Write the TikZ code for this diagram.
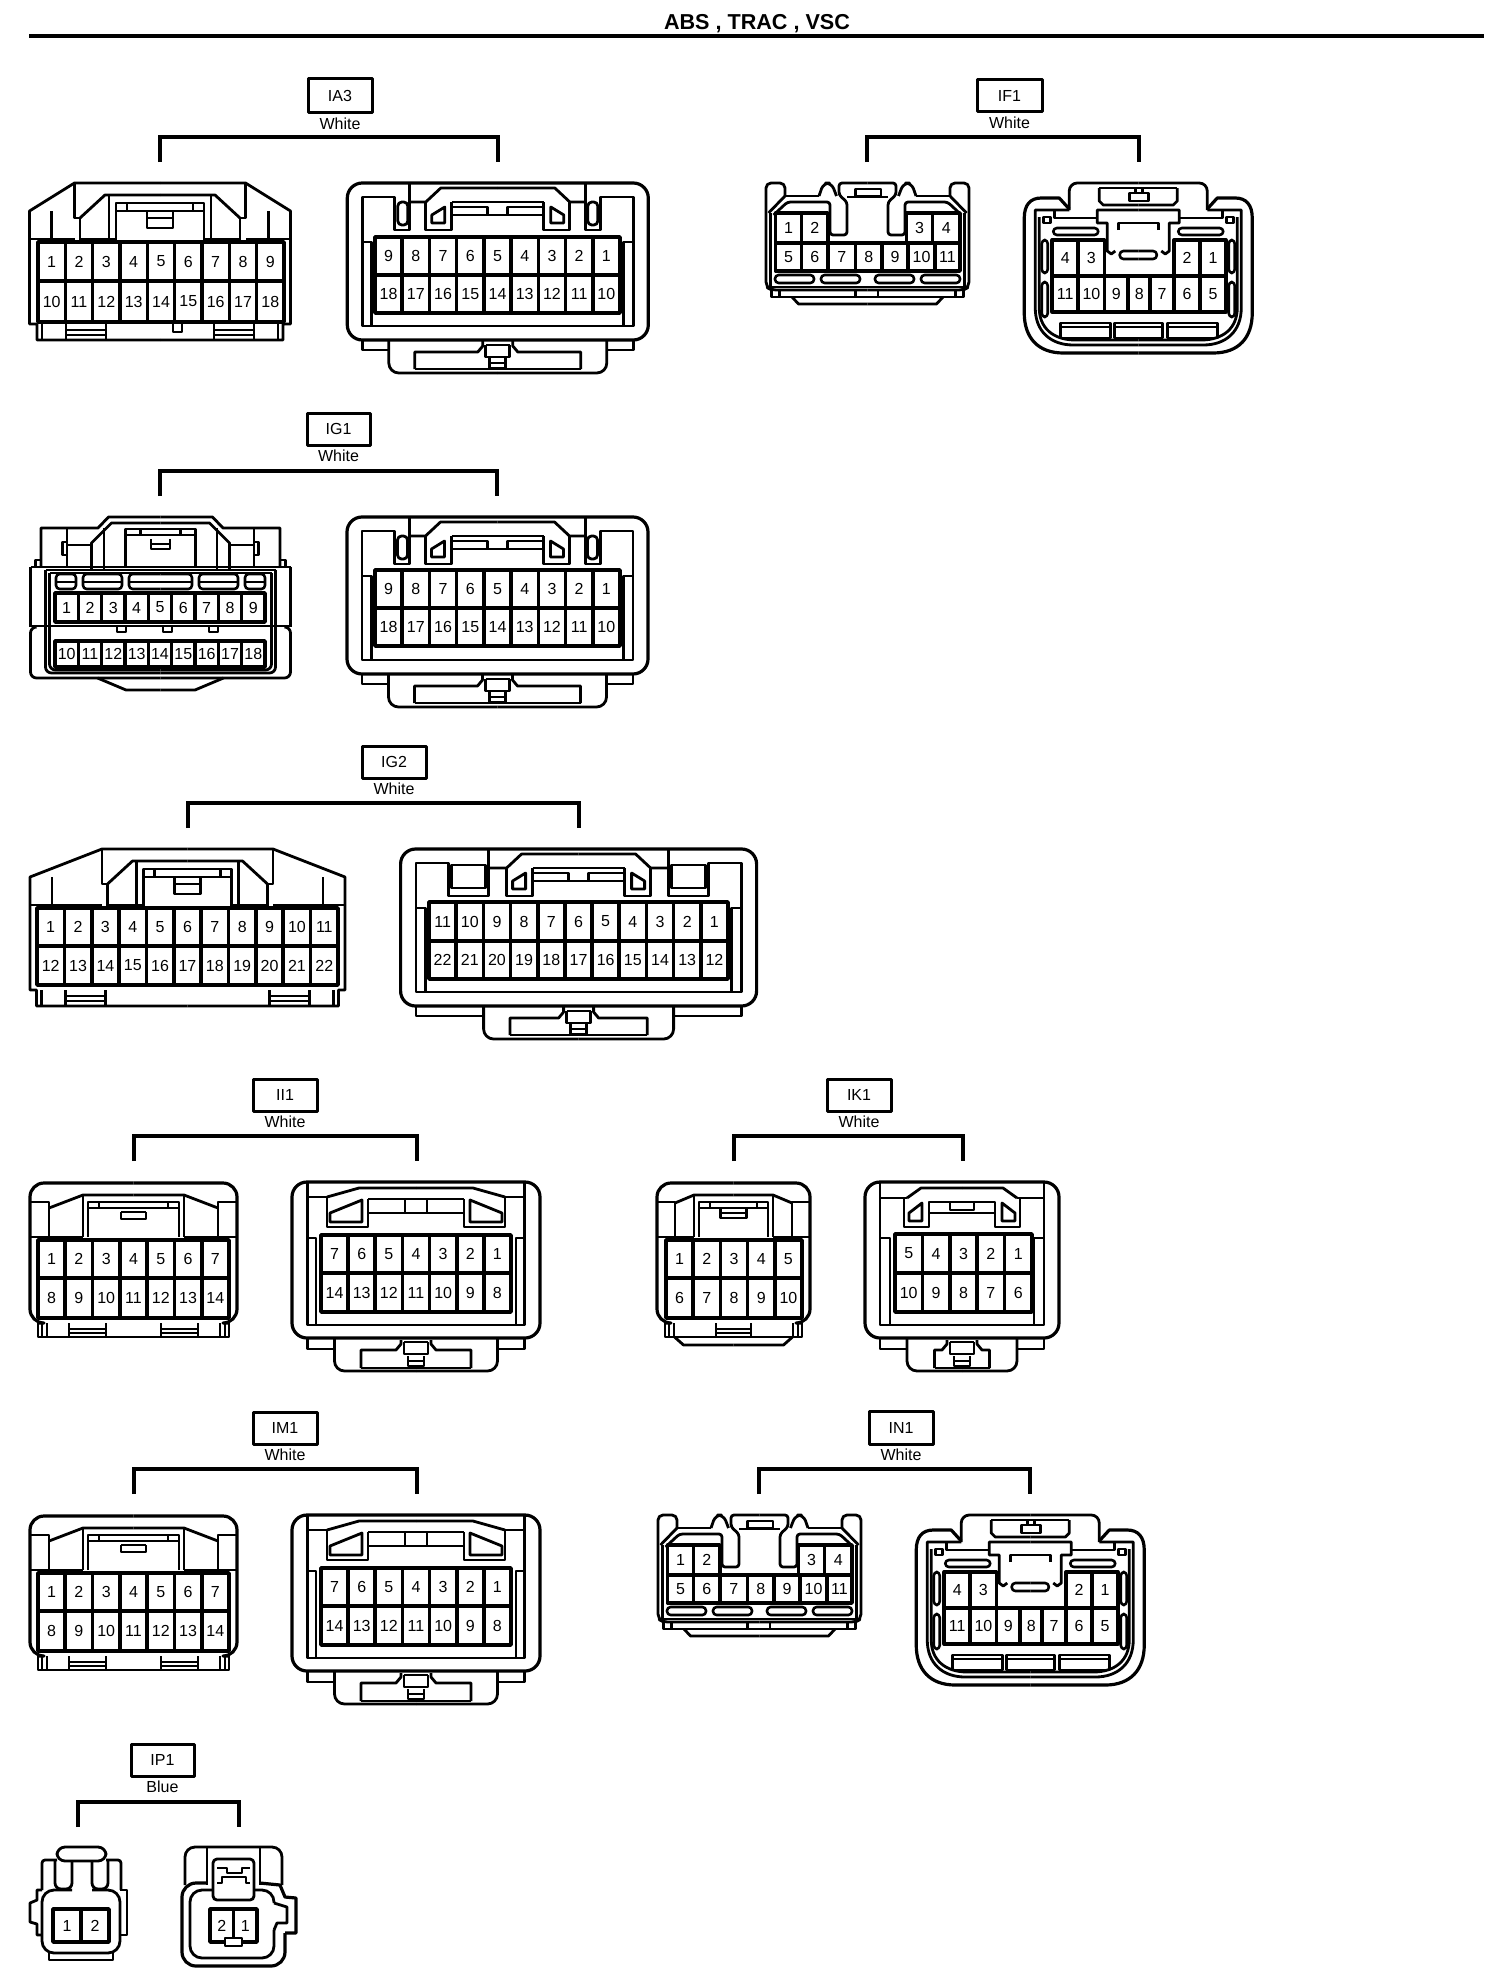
\documentclass[tikz,border=0pt]{standalone}
\usepackage{fontspec}
\usepackage{graphicx}
\setmainfont{Liberation Sans}
\newcount\pinno
\tikzset{
  pin/.style={inner sep=0pt,font=\fontsize{8pt}{9pt}\selectfont},
  grd/.style={line width=1.8pt},
  slotb/.style={line width=1.3pt,rounded corners=1.8pt},
  tagbox/.style={draw,line width=1.5pt,inner sep=0pt,font=\fontsize{8pt}{9pt}\selectfont},
  colour/.style={inner sep=0pt,font=\fontsize{8pt}{9pt}\selectfont},
  brack/.style={line width=2pt,line join=miter}
}
% name colour boxx0 boxx1 boxy0 boxy1 brL brR brY
\newcommand{\conntag}[9]{%
  \pgfmathsetmacro\bw{(#4-#3)*.5}\pgfmathsetmacro\bh{(#6-#5)*.5}%
  \pgfmathsetmacro\bx{(#3+#4)/2}\pgfmathsetmacro\by{(#5+#6)/2}%
  \node[tagbox,minimum width=\bw pt,minimum height=\bh pt] (tag#1) at (\bx,\by) {#1};
  \node[colour] (col#1) at (\bx,{#6+10.5}) {#2};
  \coordinate (L#1) at (#7,{#9+25});
  \coordinate (TL#1) at (#7,#9);
  \coordinate (TR#1) at (#8,#9);
  \coordinate (R#1) at (#8,{#9+25});
  \draw[brack] (L#1) -- (TL#1) -- (TR#1) -- (R#1);
}
\newcommand{\pinnode}[3]{\global\advance\pinno by 1 \node[pin] (p\the\pinno) at (#1,#2) {#3};}
% x0 x1 y0 ym y1 n s1 s2 d
\newcommand{\pingrid}[9]{%
  \draw[grd,fill=white] (#1,#3) rectangle (#2,#5);
  \draw[grd] (#1,#4) -- (#2,#4);
  \pgfmathsetmacro\cw{(#2-#1)/#6}%
  \pgfmathsetmacro\ya{(#3+#4)/2}\pgfmathsetmacro\yb{(#4+#5)/2}%
  \foreach \i in {1,...,#6}{%
    \pgfmathsetmacro\xc{#1+(\i-.5)*\cw}%
    \pgfmathsetmacro\xl{#1+\i*\cw}%
    \pgfmathtruncatemacro\ta{#7+(\i-1)*(#9)}%
    \pgfmathtruncatemacro\tb{#8+(\i-1)*(#9)}%
    \ifnum\i<#6 \draw[grd] (\xl,#3) -- (\xl,#5);\fi
    \pinnode{\xc}{\ya}{\ta}
    \pinnode{\xc}{\yb}{\tb}
  }%
}
% x0 x1 y0 y1 n s d
\newcommand{\pinrow}[7]{%
  \draw[grd,fill=white] (#1,#3) rectangle (#2,#4);
  \pgfmathsetmacro\cw{(#2-#1)/#5}%
  \pgfmathsetmacro\ya{(#3+#4)/2}%
  \foreach \i in {1,...,#5}{%
    \pgfmathsetmacro\xc{#1+(\i-.5)*\cw}%
    \pgfmathsetmacro\xl{#1+\i*\cw}%
    \pgfmathtruncatemacro\ta{#6+(\i-1)*(#7)}%
    \ifnum\i<#5 \draw[grd] (\xl,#3) -- (\xl,#4);\fi
    \pinnode{\xc}{\ya}{\ta}
  }%
}
\newcommand{\cell}[5]{%
  \draw[grd,fill=white] (#1,#3) rectangle (#2,#4);
  \pinnode{{(#1+#2)/2}}{{(#3+#4)/2}}{#5}
}
% Type A: left plug, sloped shoulders. cx top hw gh
\newcommand{\connA}[4]{%
\begin{scope}[shift={(#1,#2)}]
\foreach \s in {1,-1}{\begin{scope}[xscale=\s]
  \draw (0,0) -- (85.5,0) -- (#3,28) -- (#3,141) -- (#4,141) -- (#4,157) -- (0,157);
  \draw (85.5,0) -- (85.5,35) -- (80,35) -- (80,59);
  \draw (80,35) -- (55,12) -- (0,12);
  \draw (51,12) -- (51,56);
  \draw (44,59) -- (44,20) -- (0,20);
  \draw (44,28) -- (0,28); \draw (33,20) -- (33,28);
  \draw (13,29) -- (13,45) -- (0,45); \draw (13,35) -- (0,35);
  \draw ({#3-22},28) -- ({#3-22},56);
  \draw (#3,56) -- (85.5,56); \draw (80,56) -- (44,56);
  \draw ({#4-5},141) -- ({#4-5},157);
  \draw ({#4-29},141) -- ({#4-29},157);
  \draw ({#4-69},141) -- ({#4-69},157);
  \draw ({#4-29},147) -- ({#4-69},147); \draw ({#4-29},152) -- ({#4-69},152);
\end{scope}}
\end{scope}}
% Type B: right socket with box/posts. cx top hw ih boxout post tabhw recthw extra
\newcommand{\connB}[9]{%
\begin{scope}[shift={(#1,#2)}]
\draw[rounded corners=7.5pt,line width=1.6pt] (-#3,0) rectangle (#3,157);
\foreach \s in {1,-1}{\begin{scope}[xscale=\s]
  \draw (0,143) -- (#4,143) -- (#4,14) -- (#5,14) -- (#5,47) -- (#6,47) -- (#6,0);
  \draw (#6,19) -- (72,19) -- (57,5) -- (0,5);
  \draw (72,19) -- (72,47) -- (46,47) -- (46,32) -- (0,32);
  \draw (46,19) -- (0,19); \draw (46,19) -- (46,32);
  \draw (10,32) -- (10,24) -- (46,24);
  \draw (53,24) -- (66,32) -- (66,40) -- (53,40) -- cycle;
  \draw (#4,59) -- ({#4-9.5},59) -- ({#4-9.5},143);
  \draw (#4,157) -- (#4,167) -- (#7,167);
  \draw[rounded corners=5pt] (#7,157) -- (#7,190) -- (0,190);
  \draw (#8,186) -- (#8,169) -- (20,169) -- (15,163) -- (15,158);
  \draw (#8,186) -- (0,186);
  \draw (12,162) -- (12,174) -- (0,174); \draw (12,162) -- (0,162);
  \draw (8,175) -- (8,185) -- (0,185); \draw (8,180) -- (0,180);
  #9
\end{scope}}
\end{scope}}
% Type C: right socket, full-height frame. cx top hw ih side tabhw recthw latch
\newcommand{\connC}[8]{%
\begin{scope}[shift={(#1,#2)}]
\draw[rounded corners=7.5pt,line width=1.6pt] (-#3,0) rectangle (#3,156);
\foreach \s in {1,-1}{\begin{scope}[xscale=\s]
  \draw (0,143) -- (#4,143) -- (#4,0);
  \draw (#4,56) -- (#5,56) -- (#5,143);
  \draw (#4,157) -- (#4,167) -- (#6,167);
  \draw[rounded corners=5pt] (#6,157) -- (#6,189) -- (0,189);
  \draw (#7,186) -- (#7,168) -- (20,168) -- (15,162) -- (15,158);
  \draw (#7,186) -- (0,186);
  \draw (12,160) -- (12,172) -- (0,172); \draw (12,160) -- (0,160);
  \draw (8,174) -- (8,184) -- (0,184); \draw (8,179) -- (0,179);
  #8
\end{scope}}
\end{scope}}
% Type D: left plug, square top. cx top hw gh slx sly lx extra
\newcommand{\connD}[8]{%
\begin{scope}[shift={(#1,#2)}]
\foreach \s in {1,-1}{\begin{scope}[xscale=\s]
  \draw[rounded corners=7pt,line width=1.6pt] (0,0) -- (#3,0) -- (#3,140) -- (#4,140);
  \draw (#4,138) -- (#4,154) -- (0,154);
  \draw (#5,#6) -- (#7,12) -- (0,12);
  \draw (#7,12) -- (#7,54);
  \draw ({#7-5},54) -- ({#7-5},19) -- (0,19);
  \draw ({#7-5},25) -- (0,25); \draw ({#7-16},19) -- ({#7-16},25);
  \draw (#3,19) -- (#5,19) -- (#5,54);
  \draw (#3,54) -- (#7,54);
  \draw ({#4-4},140) -- ({#4-4},154);
  \draw ({#4-9},140) -- ({#4-9},154);
  #8
\end{scope}}
\end{scope}}
% Type E: IF1-L / IN1-L. cx top
\newcommand{\connE}[2]{%
\begin{scope}[shift={(#1,#2)}]
\foreach \s in {1,-1}{\begin{scope}[xscale=\s]
  \draw[rounded corners=2.5pt] (82.5,13) -- (82.5,0) -- (101.5,0) -- (101.5,104) -- (96,107) -- (0,107);
  \draw (82.5,13) -- (48.5,13);
  \draw[rounded corners=3pt] (48.5,13) -- (44,0) -- (36,0) -- (31,13);
  \draw[rounded corners=1.5pt] (0,0) -- (28.5,0) -- (28.5,12) -- (20.5,19) -- (20.5,52) -- (37.5,52) -- (37.5,19) -- (80,19) -- (94,32);
  \draw (20.5,14) -- (0,14);
  \draw (82.5,13) -- (99,30);
  \draw (97,30) -- (97,104) -- (0,104);
  \draw (96,107) -- (96,114) -- (0,114);
  \draw (88,107) -- (88,114);
  \draw (75.5,114) -- (69,121) -- (0,121);
  \draw[slotb] (7.5,92) rectangle (46.5,100);
  \draw[slotb] (53.5,92) rectangle (92.5,100);
\end{scope}}
  \draw (-12,6) rectangle (13.5,13);
  \draw (-12,107) -- (-12,114); \draw (10.5,107) -- (10.5,114);
  \foreach \a/\b/\c/\d/\t in {-92/-66/30/60/1,-66/-39.5/30/60/2,39/65/30/60/3,65/92.5/30/60/4,
    -92/-66/60/88/5,-66/-39.5/60/88/6,-39.5/-12/60/88/7,-12/14.5/60/88/8,14.5/40.5/60/88/9,40.5/67.5/60/88/10,67.5/92.5/60/88/11}{
    \cell{\a}{\b}{\c}{\d}{\t}
  }
\end{scope}}
% Type F: IF1-R / IN1-R. cx top
\newcommand{\connF}[2]{%
\begin{scope}[shift={(#1,#2)}]
\foreach \s in {1,-1}{\begin{scope}[xscale=\s]
  \draw[rounded corners=4pt] (0,0) -- (69,0) -- (69,27);
  \draw[line width=1.6pt] (69,26) -- (79,15) -- (97,15) .. controls (108,15) and (114,22) .. (114,35) -- (114,130) .. controls (114,155) and (100,170) .. (75,170) -- (0,170);
  \draw (69,27) -- (103,27) -- (103,125) .. controls (103,148) and (88,162) .. (65,162) -- (0,162);
  \draw (84,27) -- (84,35) -- (41,35);
  \draw (99,34) -- (99,125) .. controls (99,145) and (85,157) .. (63,157) -- (0,157);
  \draw (0,27) -- (41,27) -- (41,40) -- (31,40) -- (31,68) -- (27,71) -- (23,68);
  \draw (0,22) -- (35,22) -- (39,18) -- (39,5);
  \draw (88,34) rectangle (95,40);
  \draw[slotb] (40,45) rectangle (85,52);
  \draw[slotb] (90.5,57) rectangle (96.5,90);
  \draw[slotb] (90.5,99) rectangle (96.5,134);
  \draw (20,47) -- (20,40) -- (0,40);
  \draw[slotb] (0,68) -- (18.5,68) -- (18.5,76) -- (0,76);
  \draw (0,5) -- (39,5);
\end{scope}}
  \draw (-8.5,18) rectangle (10.5,10);
  \draw (-3,10) rectangle (4,5);
  \draw (-77.5,155) rectangle (-27.5,140); \draw (-77.5,144) -- (-27.5,144);
  \draw (-24,155) rectangle (24,140); \draw (-24,144) -- (24,144);
  \draw (29.5,155) rectangle (79.5,140); \draw (29.5,144) -- (79.5,144);
  \foreach \a/\b/\c/\d/\t in {-86/-60/57/93/4,-60/-33.7/57/93/3,35.8/62/57/93/2,62/87.5/57/93/1,
    -86/-60/93/129/11,-60/-33.7/93/129/10,-33.7/-10/93/129/9,-10/12/93/129/8,12/35.8/93/129/7,35.8/62/93/129/6,62/87.5/93/129/5}{
    \cell{\a}{\b}{\c}{\d}{\t}
  }
\end{scope}}
\newcommand{\latchII}{%
  \draw (89,15) -- (57,6) -- (0,6);
  \draw (89,15) -- (89,45) -- (48,45) -- (48,31) -- (0,31);
  \draw (48,17) -- (0,17); \draw (48,17) -- (48,31); \draw (11,17) -- (11,31);
  \draw (54,18) -- (86,31) -- (86,40) -- (54,40) -- cycle;
  \draw (89,15) -- (108.5,15);
}
\newcommand{\extraII}{%
  \draw (12.5,29) -- (12.5,36) -- (0,36);
  \draw (0,29) -- (12.5,29);
  \draw (27.5,140) -- (27.5,154); \draw (64.5,140) -- (64.5,154);
  \draw (27.5,146) -- (64.5,146); \draw (27.5,150) -- (64.5,150);
  \draw (84.5,25) -- (84.5,19);
}
\begin{document}
\begin{tikzpicture}[x=.5pt,y=-.5pt,line width=1.4pt,line join=round]
\fill[white] (0,0) rectangle (1504,1980);
\useasboundingbox (0,0) rectangle (1504,1980);
% header
\node[inner sep=0pt,font=\fontsize{10.8pt}{12pt}\selectfont\bfseries] (title) at (757,24) {ABS , TRAC , VSC};
\coordinate (ruleL) at (29,36.5);
\coordinate (ruleR) at (1484,36.5);
\draw[line width=2pt] (ruleL) -- (ruleR);

% IA3
\conntag{IA3}{White}{308}{372}{79}{113}{160}{498}{137}
\connA{160}{183}{130.5}{123}
\draw (173,324) -- (173,332) -- (182,332) -- (182,324);
\pingrid{38}{284}{242}{281}{322}{9}{1}{10}{1}
\connB{497.8}{183}{150.5}{135.5}{103}{88}{109}{83}{\draw[rounded corners=2pt] (90,19) rectangle (100,42);}
\pingrid{375}{620}{237}{275}{313}{9}{9}{18}{-1}

% IF1
\conntag{IF1}{White}{977}{1042}{80}{112}{866.5}{1139}{137}
\connE{867.5}{183}
\connF{1138.25}{183}

% IG1
\conntag{IG1}{White}{307}{370}{413}{445}{160}{497}{471}
% IG1 left
\foreach \s in {1,-1}{\begin{scope}[shift={(160.5,0)},xscale=\s]
  \draw (0,517) -- (52,517) -- (62.5,528) -- (119.5,528) -- (119.5,567);
  \draw (0,523) -- (49,523) -- (69,543) -- (69,570);
  \draw (56.5,528) -- (56.5,570);
  \draw (35,567) -- (35,529) -- (0,529);
  \draw (35,535) -- (0,535); \draw (20,529) -- (20,535);
  \draw (9.5,539) -- (9.5,549) -- (0,549); \draw (9.5,544) -- (0,544);
  \draw (93.5,528) -- (93.5,567);
  \draw (93.5,545) -- (69,545);
  \draw (93.5,542) -- (98,542) -- (98,555) -- (93.5,555);
  \draw (125,567) -- (125,560) -- (119.5,560);
  \draw (0,567) -- (130,567);
  \draw[rounded corners=3pt] (130,567) -- (130,627);
  \draw[rounded corners=3pt] (124,627) -- (130,627) -- (130,678) -- (0,678);
  \draw[rounded corners=3pt] (115,570) -- (115,673) -- (0,673);
  \draw[rounded corners=3pt] (0,570) -- (115,570);
  \draw[rounded corners=3pt] (111,573) -- (111,670) -- (0,670);
  \draw[rounded corners=3pt] (0,573) -- (111,573);
  \draw[slotb] (84.5,574) rectangle (104.5,589); \draw (84.5,582) -- (104.5,582);
  \draw[slotb] (38.5,574) rectangle (77.5,589); \draw (38.5,582) -- (77.5,582);
  \draw[slotb] (0,574) -- (31.5,574) -- (31.5,589) -- (0,589); \draw (0,582) -- (31.5,582);
  \draw (0,626) -- (130,626);
  \draw (0,690) -- (34.5,690) -- (63,678);
\end{scope}}
\foreach \a in {117,163,209}{\draw (\a,627) -- (\a,632) -- ({\a+9},632) -- ({\a+9},627);}
\pinrow{55}{265}{593}{622}{9}{1}{1}
\pinrow{55}{265}{641}{667}{9}{10}{1}
\connB{497.5}{517}{150.5}{135.5}{103}{88}{109}{83}{\draw[rounded corners=2pt] (90,19) rectangle (100,42);}
\pingrid{375}{620}{570}{608}{646}{9}{9}{18}{-1}

% IG2
\conntag{IG2}{White}{362}{426}{746}{778}{187.5}{578.6}{803}
\connA{187.5}{849}{157.5}{151}
\pingrid{37}{338}{908}{946}{985}{11}{1}{12}{1}
\connB{578.6}{849}{178}{162.7}{130}{90}{95}{68.6}{\draw (93,16) rectangle (127,39);}
\pingrid{429}{728}{902}{941}{979}{11}{11}{22}{-1}

% II1
\conntag{II1}{White}{253}{317}{1079}{1111}{134}{417}{1136}
\connD{133.5}{1183}{103.5}{95.5}{84.5}{25}{50.5}{\extraII}
\pingrid{38}{229}{1240}{1278}{1318}{7}{1}{8}{1}
\connC{416}{1182}{124}{108.5}{100}{81.5}{55}{\latchII}
\pingrid{321}{511}{1235}{1273}{1312}{7}{7}{14}{-1}

% IK1
\conntag{IK1}{White}{827}{891}{1079}{1111}{734}{963}{1136}
\connD{733.5}{1183}{76.5}{68.5}{58.5}{20}{39.5}{%
  \draw (13,25) -- (13,35) -- (0,35); \draw (13,30) -- (0,30);
  \draw (17.5,140) -- (17.5,154); \draw (0,146) -- (17.5,146); \draw (0,150) -- (17.5,150);
  \draw (59,154) -- (50,162) -- (0,162);
}
\pingrid{666}{802}{1240}{1278}{1318}{5}{1}{6}{1}
\connC{962}{1182}{97}{82}{72}{55}{27.5}{%
  \draw (55,16) -- (41,6) -- (0,6);
  \draw (58,16) -- (58,45) -- (33,45) -- (33,20) -- (0,20);
  \draw (33,31) -- (0,31);
  \draw (12,20) -- (12,28) -- (0,28);
  \draw (40,21) -- (53,31) -- (53,39) -- (40,39) -- cycle;
  \draw (55,16) -- (82,16);
}
\pingrid{895}{1032}{1234}{1273}{1312}{5}{5}{10}{-1}

% IM1
\conntag{IM1}{White}{253}{317}{1412}{1444}{134}{417}{1469}
\connD{133.5}{1516}{103.5}{95.5}{84.5}{25}{50.5}{\extraII}
\pingrid{38}{229}{1573}{1611}{1651}{7}{1}{8}{1}
\connC{416}{1515}{124}{108.5}{100}{81.5}{55}{\latchII}
\pingrid{321}{511}{1568}{1606}{1645}{7}{7}{14}{-1}

% IN1
\conntag{IN1}{White}{869}{933}{1411}{1444}{759}{1030}{1469}
\connE{759.5}{1515}
\connF{1030.25}{1515}

% IP1
\conntag{IP1}{Blue}{131}{194}{1744}{1776}{78}{239}{1802}
% IP1 left
\draw[rounded corners=4pt] (57,1847) rectangle (106,1861);
\draw[rounded corners=1.5pt] (57,1860) -- (42,1860) -- (42,1890);
\draw[rounded corners=1.5pt] (106,1860) -- (121,1860) -- (121,1890);
\draw[rounded corners=3pt] (55,1861) -- (55,1889) -- (72,1889) -- (72,1861);
\draw[rounded corners=3pt] (108,1861) -- (108,1889) -- (92,1889) -- (92,1861);
\draw[rounded corners=6pt] (72,1890) -- (42,1890) -- (42,1953) -- (120,1953) -- (120,1890) -- (92,1890);
\draw (49,1953) -- (49,1960) -- (113,1960) -- (113,1953);
\draw (42,1890) -- (37,1890) -- (37,1900) -- (30,1903) -- (30,1922) -- (37,1924) -- (37,1935) -- (42,1935);
\draw (120,1890) -- (127,1890) -- (127,1935) -- (120,1935);
\pinrow{53}{109}{1909}{1942}{2}{1}{1}
% IP1 right
\draw[rounded corners=7pt,line width=1.6pt] (207,1883) -- (182,1883) -- (182,1966) -- (285,1966) -- (285,1933);
\draw[line width=1.6pt] (285,1933) -- (296,1933) -- (296,1898) -- (285,1897) -- (280,1885) -- (260,1883);
\draw[rounded corners=6pt] (274,1903) -- (274,1890) -- (190,1890) -- (190,1958) -- (274,1958) -- (274,1930);
\draw (274,1903) -- (287,1907) -- (287,1923) -- (277,1923) -- (274,1930);
\draw[rounded corners=5pt] (185,1885) -- (185,1847) -- (282,1847) -- (282,1885);
\draw (207,1847) -- (207,1885); \draw (260,1847) -- (260,1885);
\draw[fill=white,rounded corners=2pt] (213,1859) rectangle (254,1900);
\draw (217,1868) -- (227,1868) -- (227,1873) -- (242,1873) -- (242,1868) -- (250,1868);
\draw (217,1883) -- (222,1883) -- (222,1877) -- (246,1877) -- (246,1883) -- (250,1883);
\pinrow{210}{257}{1909}{1942}{2}{2}{-1}
\draw[fill=white] (225,1938) rectangle (242,1946);
\end{tikzpicture}
\end{document}
